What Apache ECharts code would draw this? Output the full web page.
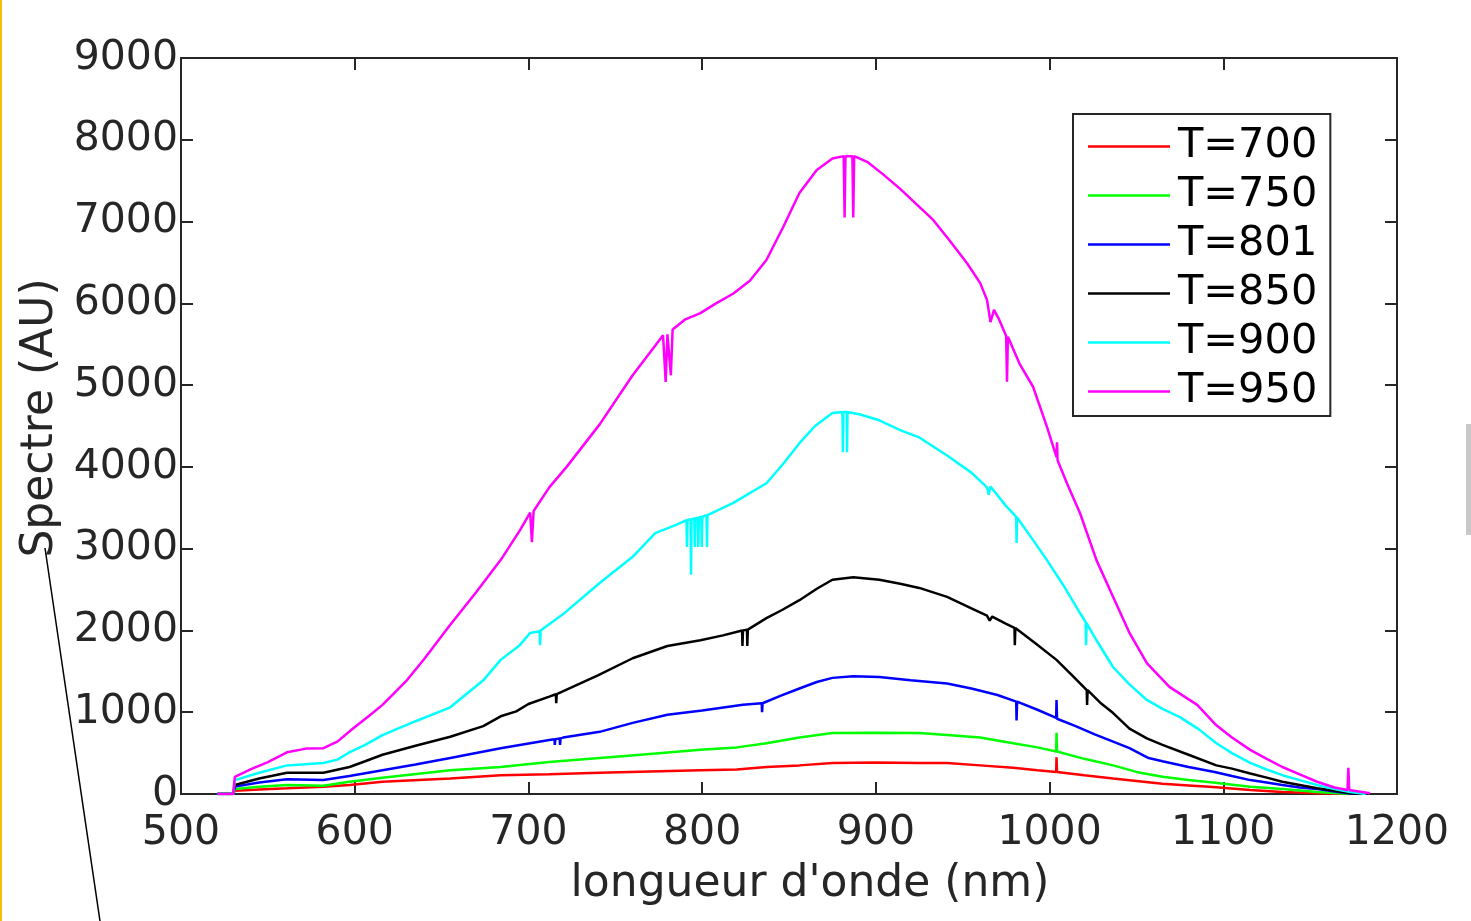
<!DOCTYPE html>
<html>
<head>
<meta charset="utf-8">
<script src="https://cdn.jsdelivr.net/npm/echarts@6/dist/echarts.min.js"></script>
<style>
html,body{margin:0;padding:0;background:#fff;}
#chart{width:1471px;height:921px;}
</style>
</head>
<body>
<div id="chart"></div>
<script>
// Legend labels
var seriesNames = ['T=700', 'T=750', 'T=801', 'T=850', 'T=900', 'T=950'];
var seriesColors = ['#ff0000', '#00ff00', '#0000ff', '#000000', '#00ffff', '#ff00ff'];
var xTicks = [500, 600, 700, 800, 900, 1000, 1100, 1200];
var yTicks = [0, 1000, 2000, 3000, 4000, 5000, 6000, 7000, 8000, 9000];

// [wavelength nm, spectrum AU]
var t700 = [[521,0],[530,0],[531,40],[545,55],[561,70],[582,90],[597,110],[616,150],[655,190],[684,230],[712,240],[741,260],[770,275],[799,290],[820,300],[837,330],[856,350],[875,380],[900,385],[925,380],[941,380],[960,350],[979,320],[993,290],[1003.8,270],[1004,450],[1004.3,270],[1020,230],[1036.6,190],[1050,160],[1065,125],[1080,105],[1094,85],[1115.5,50],[1134,25],[1154,10],[1173,0]];
var t750 = [[521,0],[530,0],[531,60],[545,90],[561,110],[582,100],[597,150],[616,200],[655,290],[684,330],[712,390],[741,440],[770,490],[799,540],[820,570],[837,620],[856,690],[875,745],[900,750],[925,745],[941,720],[960,690],[979,620],[993,570],[1003.8,520],[1004,750],[1004.3,520],[1020,430],[1036.6,350],[1050,270],[1065,210],[1080,170],[1094,140],[1115.5,90],[1134,60],[1154,25],[1173,0]];
var t801 = [[521,0],[530,0],[531,90],[545,140],[561,180],[582,170],[597,220],[616,290],[635,360],[655,440],[684,560],[712,660],[715,670],[715.2,600],[715.5,670],[718,680],[718.2,600],[718.5,680],[720,690],[741,760],[760,870],[780,970],[800,1020],[823.5,1090],[834.3,1110],[834.5,1000],[834.8,1110],[845,1200],[856,1290],[866,1370],[875,1420],[887,1440],[902,1430],[920,1390],[941,1350],[955,1290],[970,1210],[980.8,1130],[981,900],[981.3,1130],[993,1030],[1003.8,930],[1004,1150],[1004.3,920],[1015,830],[1026,730],[1036.6,640],[1046,560],[1057,440],[1065,400],[1080,330],[1095,270],[1105,220],[1115.5,170],[1125,140],[1134,110],[1144,80],[1154,60],[1164,30],[1173,5],[1180,0]];
var t850 = [[521,0],[530,0],[531,110],[545,190],[561,260],[582,260],[597,330],[606,400],[616,480],[635,590],[655,700],[674,830],[684,950],[693,1010],[700,1100],[712,1190],[715.8,1220],[716,1110],[716.3,1220],[740,1450],[760,1660],[780,1810],[799,1880],[812,1940],[823,2000],[823.2,1810],[823.5,2000],[825.8,2010],[826,1810],[826.3,2010],[837,2150],[846,2250],[856,2370],[866,2510],[875,2620],[887,2650],[902,2620],[914,2570],[925,2520],[941,2410],[955,2270],[964,2180],[965.5,2120],[967,2170],[975,2080],[979.8,2030],[980,1820],[980.3,2030],[992,1840],[1004,1640],[1013,1450],[1021.4,1270],[1021.6,1090],[1021.9,1270],[1029,1120],[1036.6,990],[1046,800],[1056,680],[1065,600],[1080,480],[1096,350],[1105,310],[1115.5,250],[1125,200],[1134,150],[1144,110],[1154,70],[1164,40],[1173,10],[1180,0]];
var t900 = [[521,0],[530,0],[531,170],[545,260],[561,350],[582,380],[590,420],[597,510],[606,600],[616,720],[635,890],[655,1060],[674,1390],[684,1640],[695,1820],[701,1970],[706.5,1990],[706.7,1820],[707,2000],[720,2200],[741,2580],[760,2900],[773,3190],[785,3290],[791,3350],[791.3,3020],[791.6,3350],[793.4,3360],[793.6,2680],[793.9,3360],[795.5,3370],[795.8,3020],[796.1,3370],[797.5,3380],[797.8,3020],[798.1,3380],[799.5,3390],[799.8,3020],[800.1,3390],[802.5,3410],[802.8,3020],[803.1,3410],[818,3560],[837,3800],[846,4020],[856,4290],[865,4500],[875,4660],[880.8,4670],[881,4180],[881.3,4670],[883.2,4670],[883.4,4180],[883.7,4670],[891,4640],[902,4570],[914,4450],[925,4360],[941,4140],[955,3930],[964,3750],[965,3660],[966,3760],[975,3520],[980.8,3390],[981,3070],[981.3,3380],[990,3120],[998.5,2860],[1008,2550],[1017.6,2210],[1020.8,2100],[1021,1820],[1021.3,2090],[1027,1880],[1036.6,1550],[1046,1340],[1056,1150],[1065,1040],[1075,940],[1086,790],[1096,620],[1105,500],[1115.5,380],[1125,300],[1134,230],[1144,170],[1154,110],[1164,60],[1173,25],[1182,0]];
var t950 = [[521,0],[530,0],[531,210],[540,300],[550,390],[561,510],[572,555],[582,560],[590,640],[599,800],[608,950],[616,1090],[630,1390],[640,1650],[655,2070],[670,2470],[684,2860],[695,3220],[701,3440],[702,3080],[703,3460],[712,3750],[722,4000],[741,4520],[760,5120],[770,5400],[777.5,5610],[779,5040],[780,5620],[782,5120],[783,5680],[790,5800],[799,5880],[808,6000],[818,6120],[827.6,6280],[837,6530],[846.6,6930],[856,7350],[866,7630],[875,7770],[881.5,7800],[882,7050],[882.5,7800],[886.5,7800],[887,7050],[887.5,7800],[895,7730],[904,7580],[914,7400],[923,7220],[933,7020],[942,6780],[952.5,6490],[960,6250],[964,6040],[966,5770],[968,5920],[971,5800],[975,5600],[975.5,5040],[976,5590],[983,5250],[990.5,4980],[998.5,4490],[1004,4120],[1004.3,4300],[1004.6,4080],[1010,3800],[1017.6,3430],[1027,2860],[1036.6,2410],[1046,1970],[1056,1600],[1069,1310],[1085,1090],[1096,840],[1105,690],[1115.5,540],[1125,430],[1134,330],[1144,240],[1154,150],[1164,80],[1171.5,50],[1172,320],[1172.5,50],[1178,30],[1184.5,10]];

var seriesData = [t700, t750, t801, t850, t900, t950];
var FONT = 'DejaVu Sans';
var AX = '#262626';

var chart = echarts.init(document.getElementById('chart'), null, {renderer: 'canvas'});

function plain(v) { return String(v); }

function xAxisDef(pos, showLabel) {
  return {
    type: 'value', position: pos, min: xTicks[0], max: xTicks[xTicks.length - 1],
    interval: xTicks[1] - xTicks[0],
    axisLine: {show: true, onZero: false, lineStyle: {color: AX, width: 2}},
    axisTick: {show: true, inside: true, length: 12, lineStyle: {color: AX, width: 2}},
    axisLabel: {show: showLabel, fontFamily: FONT, fontSize: 41, color: AX, margin: 19, formatter: plain},
    splitLine: {show: false},
    name: showLabel ? "longueur d'onde (nm)" : '',
    nameLocation: 'middle', nameGap: 69,
    nameTextStyle: {fontFamily: FONT, fontSize: 44, color: AX, padding: [0, 0, 0, 42]}
  };
}
function yAxisDef(pos, showLabel) {
  return {
    type: 'value', position: pos, min: yTicks[0], max: yTicks[yTicks.length - 1],
    interval: yTicks[1] - yTicks[0],
    axisLine: {show: true, onZero: false, lineStyle: {color: AX, width: 2}},
    axisTick: {show: true, inside: true, length: 12, lineStyle: {color: AX, width: 2}},
    axisLabel: {show: showLabel, fontFamily: FONT, fontSize: 41, color: AX, margin: 3, formatter: plain},
    splitLine: {show: false},
    name: showLabel ? 'Spectre (AU)' : '',
    nameLocation: 'middle', nameGap: 110, nameRotate: 90,
    nameTextStyle: {fontFamily: FONT, fontSize: 44, color: AX, padding: [0, 0, 0, 16]}
  };
}

var series = seriesNames.map(function (n, i) {
  return {
    name: n, type: 'line', data: seriesData[i], xAxisIndex: 0, yAxisIndex: 0,
    symbol: 'none', showSymbol: false, animation: false,
    lineStyle: {color: seriesColors[i], width: 2.5}, itemStyle: {color: seriesColors[i]},
    z: 2 + i
  };
});

chart.setOption({
  animation: false,
  backgroundColor: '#ffffff',
  grid: {left: 181, right: 74, top: 58, bottom: 127, containLabel: false},
  xAxis: [xAxisDef('bottom', true), xAxisDef('top', false)],
  yAxis: [yAxisDef('left', true), yAxisDef('right', false)],
  legend: {
    data: seriesNames, orient: 'vertical', left: 1073, top: 114,
    padding: [8, 13, 0, 15], itemGap: 0, itemWidth: 82, itemHeight: 2.5, icon: 'rect',
    borderColor: AX, borderWidth: 2, backgroundColor: '#ffffff',
    textStyle: {fontFamily: FONT, fontSize: 41.5, color: '#000000', lineHeight: 49, padding: [0, 0, 0, 3]},
    selectedMode: false, z: 20
  },
  graphic: [
    {type: 'rect', left: 0, top: 0, shape: {width: 2, height: 921}, style: {fill: '#f2c200'}, z: 50},
    {type: 'line', shape: {x1: 45, y1: 548, x2: 100, y2: 921}, style: {stroke: '#000000', lineWidth: 1.5}, z: 50},
    {type: 'rect', left: 1466, top: 424, shape: {width: 5, height: 111}, style: {fill: '#c8c8c8'}, z: 50}
  ],
  series: series
});
</script>
</body>
</html>
